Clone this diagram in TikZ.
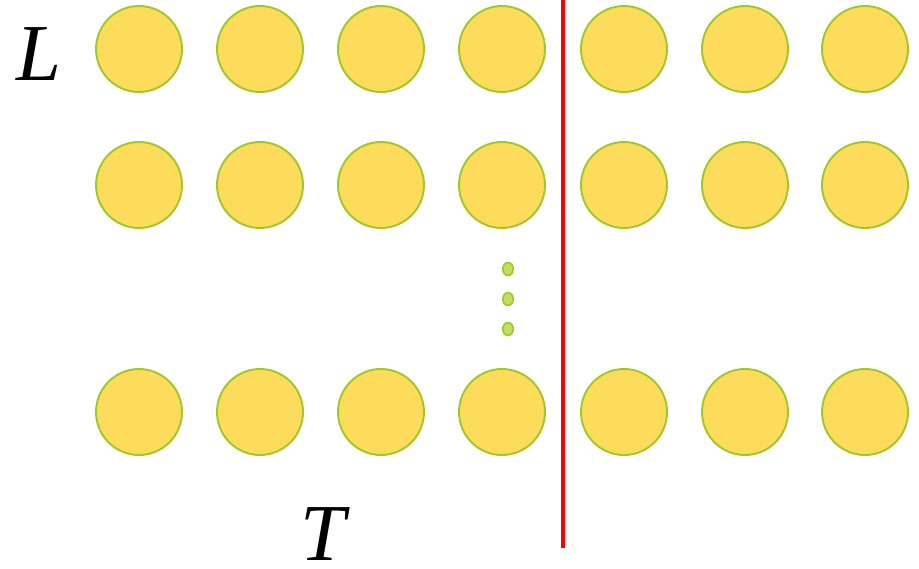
\documentclass[tikz,border=0pt]{standalone}
\usepackage{fontspec}
\setmainfont{Liberation Serif}
\definecolor{beadfill}{RGB}{252,220,90}
\definecolor{beadline}{RGB}{160,200,40}
\definecolor{dotfill}{RGB}{192,222,96}
\tikzset{
  bead/.style={circle,draw=beadline,fill=beadfill,line width=1.1pt,minimum size=1.72cm,inner sep=0pt},
  gap/.style={ellipse,draw=beadline,fill=dotfill,line width=0.9pt,minimum width=0.21cm,minimum height=0.26cm,inner sep=0pt},
  tag/.style={inner sep=0pt,font=\fontsize{46}{46}\selectfont\itshape}
}
\usetikzlibrary{shapes.geometric}
\begin{document}
\begin{tikzpicture}[x=0.02cm,y=-0.02cm]
\useasboundingbox (0,0) rectangle (919,568);

\node[bead] (a1) at (139,49) {};
\node[bead] (a2) at (260,49) {};
\node[bead] (a3) at (381,49) {};
\node[bead] (a4) at (502,49) {};
\node[bead] (a5) at (624,49) {};
\node[bead] (a6) at (745,49) {};
\node[bead] (a7) at (865,49) {};

\node[bead] (b1) at (139,185) {};
\node[bead] (b2) at (260,185) {};
\node[bead] (b3) at (381,185) {};
\node[bead] (b4) at (502,185) {};
\node[bead] (b5) at (624,185) {};
\node[bead] (b6) at (745,185) {};
\node[bead] (b7) at (865,185) {};

\node[bead] (c1) at (139,412) {};
\node[bead] (c2) at (260,412) {};
\node[bead] (c3) at (381,412) {};
\node[bead] (c4) at (502,412) {};
\node[bead] (c5) at (624,412) {};
\node[bead] (c6) at (745,412) {};
\node[bead] (c7) at (865,412) {};

\node[gap] (d1) at (508,269) {};
\node[gap] (d2) at (508,299) {};
\node[gap] (d3) at (508,329) {};

\node[tag] (lbl) at (39,54) {L};
\node[tag] (tbl) at (323,534) {T};

\coordinate (cuttop) at (563,0);
\coordinate (cutbot) at (563,548);
\draw[red,line width=2.3pt] (cuttop) -- (cutbot);
\end{tikzpicture}
\end{document}
